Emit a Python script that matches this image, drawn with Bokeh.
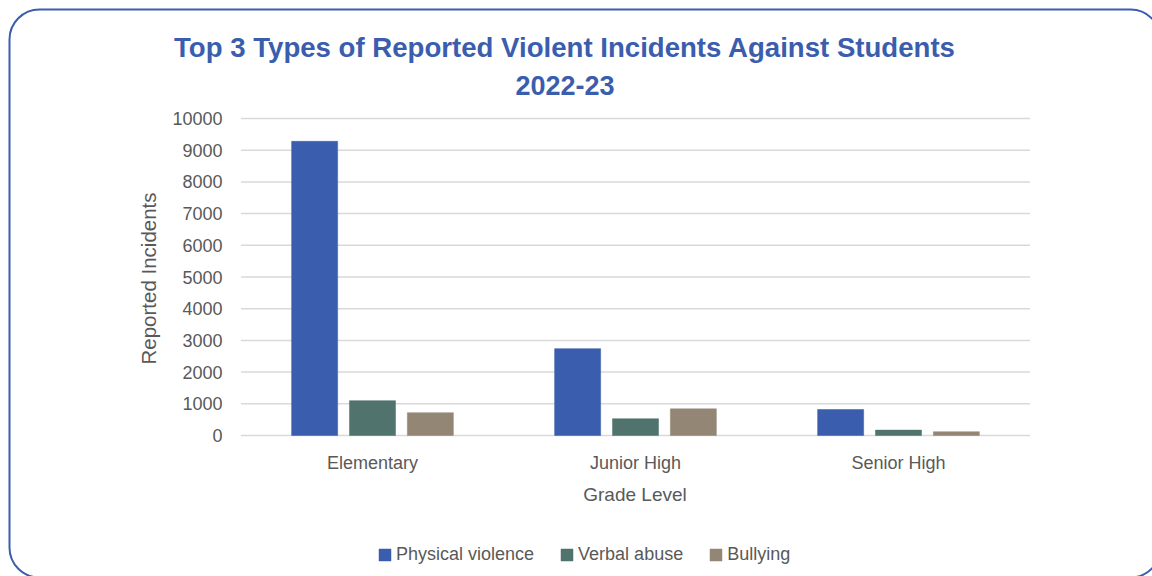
import math
from bokeh.plotting import figure
from bokeh.models import Range1d, ColumnDataSource, Legend, LegendItem, BoxAnnotation
from bokeh.core.properties import value
from bokeh.embed import file_html
from bokeh.resources import INLINE

# ---- data ----
grades = ["Elementary", "Junior High", "Senior High"]
physical = [9280, 2740, 820]
verbal = [1100, 530, 170]
bullying = [720, 840, 120]
series_names = ["Physical violence", "Verbal abuse", "Bullying"]
colors = ["#3A5DAE", "#50736D", "#948674"]
y_ticks = [0, 1000, 2000, 3000, 4000, 5000, 6000, 7000, 8000, 9000, 10000]
title_lines = ["Top 3 Types of Reported Violent Incidents Against Students", "2022-23"]
x_title = "Grade Level"
y_title = "Reported Incidents"

# ---- layout (pixels in the 1152x576 canvas) ----
W, H = 1152, 576
PLOT_LEFT = 240.5      # left edge of first category
CAT_PX = 263.0         # width of one category
ZERO_Y = 435.0         # pixel row of value 0
PX_PER_10K = 317.0     # pixels between 0 and 10000

def x_of(px):
    return (px - PLOT_LEFT) / CAT_PX

def y_of(py):
    return (ZERO_Y - py) * 10000.0 / PX_PER_10K

FONT = "Liberation Sans"
GREY = "#595959"
BLUE = "#3A5DAE"

p = figure(width=W, height=H, x_range=Range1d(x_of(0), x_of(W)), y_range=Range1d(y_of(H), y_of(0)),
           output_backend="svg", toolbar_location=None,
           min_border_left=0, min_border_right=0, min_border_top=0, min_border_bottom=0)
p.xaxis.visible = False
p.yaxis.visible = False
p.xgrid.visible = False
p.ygrid.visible = False
p.outline_line_color = None
p.background_fill_color = "white"
p.border_fill_color = "white"

n = len(grades)
centers = [i + 0.5 for i in range(n)]

# gridlines
p.segment(x0=[0] * len(y_ticks), x1=[n] * len(y_ticks), y0=y_ticks, y1=y_ticks,
          line_color="#D9D9D9", line_width=1.5)

# bars
renderers = []
for vals, off, col in zip([physical, verbal, bullying], [-0.22, 0.0, 0.22], colors):
    src = ColumnDataSource(dict(x=[c + off for c in centers], top=vals))
    r = p.vbar(x="x", top="top", bottom=0, width=0.175, source=src,
               fill_color=col, line_color=col, line_width=0.5)
    renderers.append(r)

txt_common = dict(text_font=value(FONT), text_color=GREY)

# y tick labels
p.text(x=[x_of(222)] * len(y_ticks), y=y_ticks, text=[str(t) for t in y_ticks],
       text_align="right", text_baseline="middle", text_font_size=value("18px"), **txt_common)
# category labels
p.text(x=centers, y=[y_of(462)] * n, text=grades, text_align="center", text_baseline="middle",
       text_font_size=value("18px"), **txt_common)
# axis titles
p.text(x=[x_of(634.5)], y=[y_of(494)], text=[x_title], text_align="center", text_baseline="middle",
       text_font_size=value("19px"), **txt_common)
p.text(x=[x_of(148)], y=[y_of(278)], text=[y_title], angle=math.pi / 2, text_align="center",
       text_baseline="middle", text_font_size=value("20.5px"), **txt_common)
# chart title
p.text(x=[x_of(564.5)], y=[y_of(47)], text=[title_lines[0]], text_align="center",
       text_baseline="middle", text_font=value(FONT), text_font_size=value("27.6px"),
       text_font_style="bold", text_color=BLUE)
p.text(x=[x_of(564.5)], y=[y_of(85)], text=[title_lines[1]], text_align="center",
       text_baseline="middle", text_font=value(FONT), text_font_size=value("27px"),
       text_font_style="bold", text_color=BLUE)

# legend
legend = Legend(items=[LegendItem(label=s, renderers=[r]) for s, r in zip(series_names, renderers)],
                orientation="horizontal", location=(377, 11),
                glyph_width=15, glyph_height=15, label_standoff=4, spacing=25,
                padding=0, margin=0, border_line_color=None, background_fill_alpha=0,
                label_text_font=FONT, label_text_font_size="18px", label_text_color=GREY,
                label_height=12)
p.add_layout(legend, "center")

# rounded border of the chart area
p.add_layout(BoxAnnotation(left=x_of(9), right=x_of(1160), top=y_of(9), bottom=y_of(577),
                           border_radius=30, fill_alpha=0, line_color=BLUE, line_alpha=1.0,
                           line_width=2))

open("out.html", "w").write(file_html(p, INLINE))
